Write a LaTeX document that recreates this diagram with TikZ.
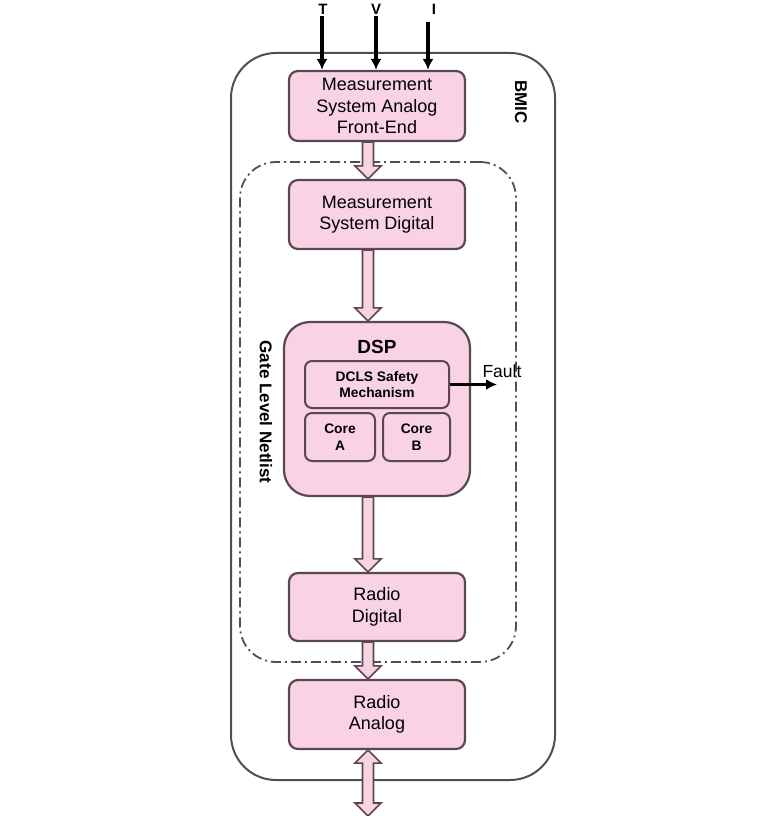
\documentclass[tikz,border=0pt]{standalone}
\usepackage{fontspec}
\setmainfont{Liberation Sans}
\usetikzlibrary{arrows.meta,calc}
\definecolor{boxfill}{RGB}{249,210,229}
\definecolor{boxline}{RGB}{90,72,80}
\definecolor{frameline}{RGB}{80,80,80}
\tikzset{
  blk/.style={draw=boxline, line width=2.2pt, fill=boxfill, rounded corners=9pt,
    align=center, font=\fontsize{18}{21.5}\selectfont, inner sep=0pt},
  subblk/.style={draw=boxline, line width=2pt, fill=boxfill, rounded corners=7pt,
    align=center, font=\bfseries\fontsize{13.8}{16.5}\selectfont, inner sep=0pt},
  fatstyle/.style={draw=boxline, line width=1.6pt, fill=boxfill, line join=miter},
  inarrow/.style={line width=3.2pt, -{Latex[length=11pt,width=11pt]}},
  sidelabel/.style={font=\bfseries\fontsize{17}{20}\selectfont, rotate=-90},
  toplabel/.style={font=\bfseries\fontsize{15}{17}\selectfont},
}
\newcommand\fatarrow[2]{%
  \path[fatstyle] let \p1=(#1), \p2=(#2) in
    (\x1-5.5pt,\y1) -- (\x1-5.5pt,\y2+13pt) -- (\x1-13pt,\y2+13pt) -- (\x1,\y2)
    -- (\x1+13pt,\y2+13pt) -- (\x1+5.5pt,\y2+13pt) -- (\x1+5.5pt,\y1) -- cycle;}
\newcommand\fatdoublearrow[2]{%
  \path[fatstyle] let \p1=(#1), \p2=(#2) in
    (\x1,\y1) -- (\x1+13pt,\y1-13pt) -- (\x1+5.5pt,\y1-13pt) -- (\x1+5.5pt,\y2+13pt)
    -- (\x1+13pt,\y2+13pt) -- (\x1,\y2) -- (\x1-13pt,\y2+13pt) -- (\x1-5.5pt,\y2+13pt)
    -- (\x1-5.5pt,\y1-13pt) -- (\x1-13pt,\y1-13pt) -- cycle;}
\begin{document}
\begin{tikzpicture}[x=1pt,y=-1pt]
\useasboundingbox[fill=white] (0,0) rectangle (780,816);
% outer BMIC frame
\node[draw=frameline, line width=2pt, rounded corners=45pt, minimum width=324pt,
  minimum height=727pt, inner sep=0pt] (bmic) at (393,416.5) {};
\node[sidelabel] (bmiclbl) at (521,102) {BMIC};
% gate level netlist frame
\node[draw=frameline, line width=1.8pt, rounded corners=36pt, minimum width=276pt,
  minimum height=500pt, inner sep=0pt,
  dash pattern=on 10pt off 4pt on 2pt off 4pt] (gln) at (378,412) {};
\node[sidelabel] (glnlbl) at (266,412) {Gate Level Netlist};
% blocks
\node[blk, minimum width=176pt, minimum height=70pt] (msafe) at (377,106)
  {Measurement\\System Analog\\Front-End};
\node[blk, minimum width=176pt, minimum height=69pt] (msd) at (377,214.5)
  {Measurement\\System Digital};
\node[blk, rounded corners=26pt, minimum width=186pt, minimum height=174pt] (dsp) at (377,409) {};
\node[font=\bfseries\fontsize{19}{21}\selectfont] (dsplbl) at (377,347) {DSP};
\node[subblk, minimum width=144pt, minimum height=47pt] (dcls) at (377,384.5)
  {DCLS Safety\\Mechanism};
\node[subblk, minimum width=70pt, minimum height=48pt] (corea) at (340,437) {Core\\A};
\node[subblk, minimum width=67pt, minimum height=48pt] (coreb) at (416.5,437) {Core\\B};
\node[blk, minimum width=176pt, minimum height=68pt] (rd) at (377,607)
  {Radio\\Digital};
\node[blk, minimum width=176pt, minimum height=69pt] (ra) at (377,714.5)
  {Radio\\Analog};
% inputs
\node[toplabel] (tl) at (323,9) {T};
\node[toplabel] (vl) at (376,9) {V};
\node[toplabel] (il) at (434,9) {I};
\coordinate (tin) at (322,16);
\coordinate (vin) at (376,16);
\coordinate (iin) at (428,22);
\draw[inarrow] (tin) -- (tin |- msafe.north);
\draw[inarrow] (vin) -- (vin |- msafe.north);
\draw[inarrow] (iin) -- (iin |- msafe.north);
% fault
\coordinate (faultend) at (497,384.5);
\draw[inarrow] (dcls.east) -- (faultend);
\node[font=\fontsize{17.5}{19}\selectfont, anchor=west] (fault) at (479,371) {Fault};
% fat arrows
\fatarrow{$(msafe.south)+(-9,0)$}{$(msd.north)+(-9,0)$}
\fatarrow{$(msd.south)+(-9,0)$}{$(dsp.north)+(-9,0)$}
\fatarrow{$(dsp.south)+(-9,0)$}{$(rd.north)+(-9,0)$}
\fatarrow{$(rd.south)+(-9,0)$}{$(ra.north)+(-9,0)$}
\coordinate (out) at (368,816);
\fatdoublearrow{$(ra.south)+(-9,0)$}{out}
\end{tikzpicture}
\end{document}
